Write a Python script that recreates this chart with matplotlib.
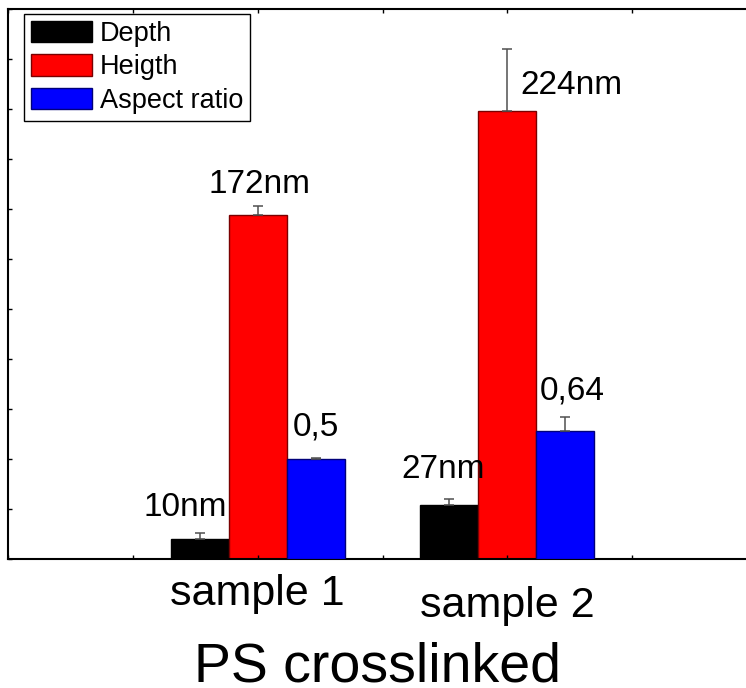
import matplotlib
matplotlib.use("Agg")
import matplotlib.pyplot as plt
import matplotlib.transforms as mtransforms

plt.rcParams['font.family'] = ['Liberation Sans', 'DejaVu Sans']

# data
samples = ["sample 1", "sample 2"]
depth_nm = [10, 27]
depth_err = [3, 3]
height_nm = [172, 224]
height_err = [4.5, 31]
aspect_ratio = [0.5, 0.64]
aspect_err = [0.005, 0.07]
depth_labels = ["10nm", "27nm"]
height_labels = ["172nm", "224nm"]
aspect_labels = ["0,5", "0,64"]
series_names = ["Depth", "Heigth", "Aspect ratio"]
xlabel = "PS crosslinked"

W, H = 746, 688
fig = plt.figure(figsize=(W / 100, H / 100), dpi=100)
rect = [8 / W, (H - 559) / H, (W - 8) / W, 550 / H]
ax = fig.add_axes(rect)
# second value scale (aspect ratio) sharing the same x positions, no frame of its own
ax2 = fig.add_axes(rect, sharex=ax, frameon=False)
ax2.axis("off")

pos = [2, 4]
bw = 0.465
err_kw = dict(ecolor="#505050", elinewidth=1.1, capsize=3.6, capthick=1.1)

def up(errs):
    return [[0] * len(errs), list(errs)]

b1 = ax.bar([p - bw for p in pos], depth_nm, bw, color="black", edgecolor="black",
            linewidth=1, yerr=up(depth_err), error_kw=err_kw, label=series_names[0])
b2 = ax.bar(pos, height_nm, bw, color="#ff0000", edgecolor="#7a0000",
            linewidth=1, yerr=up(height_err), error_kw=err_kw, label=series_names[1])
b3 = ax2.bar([p + bw for p in pos], aspect_ratio, bw, color="#0000ff", edgecolor="#00007a",
             linewidth=1, yerr=up(aspect_err), error_kw=err_kw, label=series_names[2])

ax.set_xlim(0, 6 * (W - 8) / 749)
ax.set_ylim(0, 275)
ax2.set_ylim(0, 2.75)

lab_fs = 24
txt = dict(fontsize=lab_fs, textcoords="offset pixels", va="baseline")
# depth labels
ax.annotate(depth_labels[0], (pos[0] - bw, depth_nm[0] + depth_err[0]), xytext=(-14, 17), ha="center", **txt)
ax.annotate(depth_labels[1], (pos[1] - bw, depth_nm[1] + depth_err[1]), xytext=(-6, 21), ha="center", **txt)
# height labels
ax.annotate(height_labels[0], (pos[0], height_nm[0] + height_err[0]), xytext=(2, 13), ha="center", **txt)
ax.annotate(height_labels[1], (pos[1], height_nm[1]), xytext=(13, 17), ha="left", **txt)
# aspect ratio labels
ax2.annotate(aspect_labels[0], (pos[0] + bw, aspect_ratio[0] + aspect_err[0]), xytext=(0, 22), ha="center", **txt)
ax2.annotate(aspect_labels[1], (pos[1] + bw, aspect_ratio[1] + aspect_err[1]), xytext=(7, 18), ha="center", **txt)

# ticks
ax.set_xticks(range(6))
ticklabels = ["", "", samples[0], "", samples[1], ""]
ax.set_xticklabels(ticklabels, fontsize=31)
ax.set_yticks(range(0, 276, 25))
ax.tick_params(axis="y", which="both", direction="in", length=3, width=1, labelleft=False, left=True, right=False)
ax.tick_params(axis="x", which="both", direction="in", length=3, width=1, top=True, pad=10.5)
for lbl in ax.get_xticklabels():
    if lbl.get_text() == samples[1]:
        lbl.set_transform(lbl.get_transform() + mtransforms.ScaledTranslation(0, -12 / 100, fig.dpi_scale_trans))

for s in ax.spines.values():
    s.set_linewidth(1.5)
ax.spines["right"].set_visible(False)

fig.text(378 / W, 6 / H, xlabel, fontsize=40, ha="center", va="baseline")

leg = ax2.legend(handles=[b1, b2, b3], loc="upper left",
                 bbox_to_anchor=(16 / (W - 8), 1 - 5 / 550), borderaxespad=0,
                 fontsize=19.5, fancybox=False, framealpha=1, edgecolor="black",
                 handlelength=2.25, handleheight=0.85, handletextpad=0.3,
                 labelspacing=0.27, borderpad=0.25)
leg.get_frame().set_linewidth(1)

fig.savefig("out.png", dpi=100)
